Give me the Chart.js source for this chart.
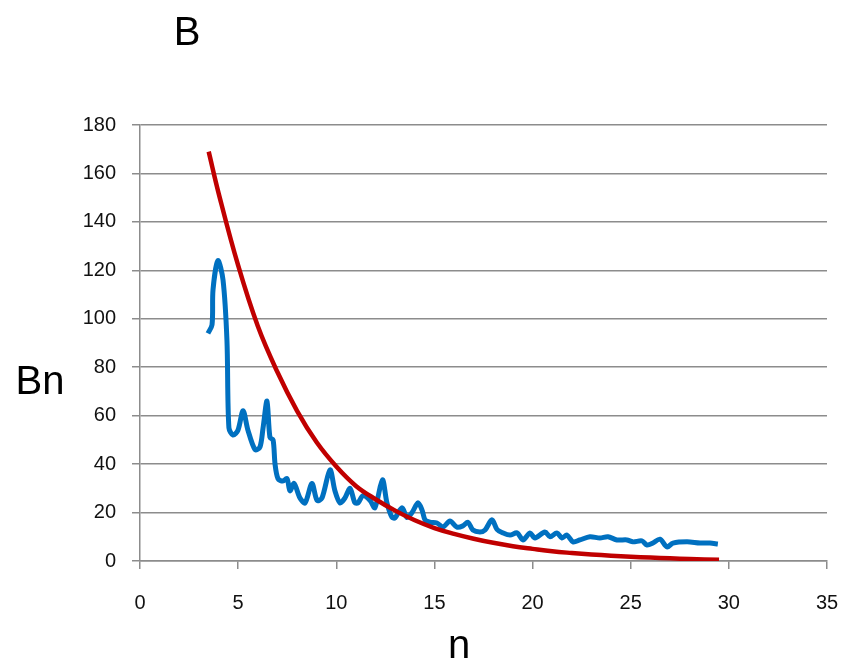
<!DOCTYPE html>
<html>
<head>
<meta charset="utf-8">
<script src="https://cdn.jsdelivr.net/npm/chart.js@4.4.0/dist/chart.umd.min.js"></script>
<style>
html,body{margin:0;padding:0;background:#fff;}
#wrap{width:842px;height:665px;position:relative;}
</style>
</head>
<body>
<div id="wrap"><canvas id="c" width="842" height="665"></canvas></div>
<script>
// Data
const titleText = "B";
const yTitle = "Bn";
const xTitle = "n";
const xTicks = [0, 5, 10, 15, 20, 25, 30, 35];
const yTicks = [0, 20, 40, 60, 80, 100, 120, 140, 160, 180];

const blueN = [3.46,3.67,3.72,3.97,4.23,4.43,4.53,4.74,4.99,5.25,5.50,5.86,6.11,6.27,6.47,6.62,6.78,6.88,7.03,7.28,7.49,7.64,7.85,8.15,8.41,8.76,9.02,9.27,9.68,9.93,10.19,10.44,10.70,10.95,11.11,11.36,11.72,11.97,12.35,12.58,12.84,12.99,13.35,13.60,13.86,14.16,14.37,14.52,14.77,15.13,15.44,15.79,16.15,16.45,16.71,16.96,17.32,17.58,17.93,18.19,18.49,18.85,19.21,19.51,19.87,20.12,20.63,20.89,21.24,21.50,21.75,22.06,22.41,22.92,23.43,23.84,24.30,24.81,25.11,25.57,25.83,26.13,26.49,26.85,27.15,27.87,28.53,29.04,29.44];
const blueV = [94,97.5,112,124,116,91,55,52,54,62,54,46,47,55,66,51,50,40,34,33,34,29,32,26,24,32,25,26,37.6,29,24,26,30,24,24,27,25,22,33.5,24,18,17.8,22,18,20,24,21,17,16,15.7,14,16.5,14,14.5,16,12.8,12,12.8,17,13,11.6,10.7,11.6,8.7,11.6,9.5,12,10,11.6,9.5,10.7,7.9,8.7,10,9.5,10,8.7,8.7,7.9,8.3,6.6,7.4,9,5.8,7.4,7.9,7.4,7.4,7];

const redN = [3.5,4,5,6,7,8,9,10,11,12,13,14,15,16,17,18,19,20,21,22,23,24,25,26,27,28,29.5];
const redV = [169,152,122,97,78,62,49,39,31,25.5,20.8,16.8,13.6,11.2,9.2,7.5,6.1,5.0,4.0,3.3,2.7,2.2,1.8,1.4,1.1,0.8,0.5];

const toXY = (xs, ys) => xs.map((x, i) => ({x: x, y: ys[i]}));

const FONT = "'Liberation Sans', Arial, sans-serif";
const GRID = '#8c8c8c';

const textPlugin = {
  id: 'texts',
  afterDraw(chart) {
    const ctx = chart.ctx;
    ctx.save();
    ctx.fillStyle = '#000';
    ctx.textAlign = 'center';
    ctx.textBaseline = 'middle';
    ctx.font = "40px " + FONT;
    ctx.fillText(titleText, 187, 34);
    ctx.fillText(yTitle, 40, 383);
    ctx.fillText(xTitle, 459, 647);
    ctx.restore();
  }
};

new Chart(document.getElementById('c'), {
  type: 'line',
  data: {
    datasets: [
      {
        data: toXY(redN, redV),
        borderColor: '#C00000',
        borderWidth: 4.5,
        pointRadius: 0,
        tension: 0.4,
        fill: false
      },
      {
        data: toXY(blueN, blueV),
        borderColor: '#0070C0',
        borderWidth: 5,
        pointRadius: 0,
        tension: 0.3,
        fill: false
      }
    ]
  },
  options: {
    responsive: false,
    animation: false,
    layout: { padding: { top: 125, right: 15, bottom: 0, left: 0 } },
    plugins: { legend: { display: false }, tooltip: { enabled: false }, title: { display: false } },
    scales: {
      x: {
        type: 'linear',
        min: 0, max: 35,
        afterBuildTicks: (s) => { s.ticks = xTicks.map(v => ({value: v})); },
        afterFit: (s) => { s.height = 104; s.paddingLeft = 0; s.paddingRight = 0; },
        grid: { drawOnChartArea: false, drawTicks: true, tickLength: 8, color: GRID, lineWidth: 1.5 },
        border: { display: true, color: GRID, width: 1.5 },
        ticks: { color: '#111', font: { family: FONT, size: 20 }, padding: 22, maxRotation: 0 }
      },
      y: {
        type: 'linear',
        min: 0, max: 180,
        afterBuildTicks: (s) => { s.ticks = yTicks.map(v => ({value: v})); },
        afterFit: (s) => { s.width = 140; s.paddingTop = 0; s.paddingBottom = 0; },
        grid: { drawOnChartArea: true, drawTicks: true, tickLength: 8, color: GRID, lineWidth: 1.5 },
        border: { display: true, color: GRID, width: 1.5 },
        ticks: { color: '#111', font: { family: FONT, size: 20 }, padding: 16 }
      }
    }
  },
  plugins: [textPlugin]
});
</script>
</body>
</html>
